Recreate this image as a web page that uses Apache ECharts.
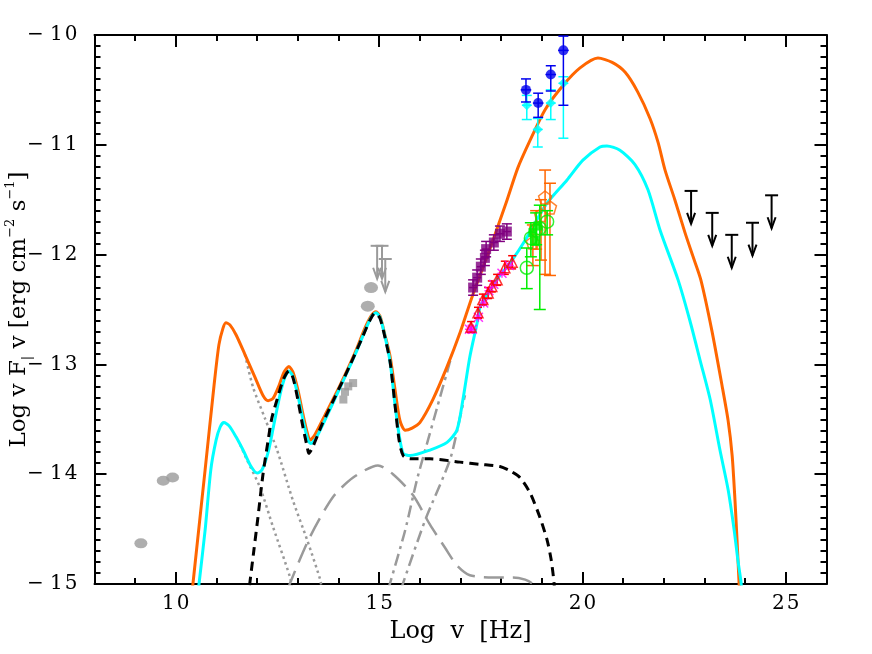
<!DOCTYPE html>
<html><head><meta charset="utf-8">
<script src="https://cdn.jsdelivr.net/npm/echarts@6/dist/echarts.min.js"></script>
<style>html,body{margin:0;padding:0;background:#fff}#c{width:872px;height:654px}</style>
</head><body><div id="c"></div>
<script>
// ---------- axis tick labels ----------
const xTickLabels = [10, 15, 20, 25];
const yTickLabels = [-15, -14, -13, -12, -11, -10];

// ---------- model curves: [log nu, log nuFnu] ----------
const orangeModel = [[10.38,-15.15],[10.42,-15.0],[10.72,-13.96],[10.94,-13.19],[11.06,-12.82],[11.16,-12.67],[11.23,-12.62],[11.33,-12.64],[11.48,-12.73],[11.70,-12.91],[11.95,-13.12],[12.14,-13.28],[12.27,-13.33],[12.39,-13.31],[12.54,-13.19],[12.66,-13.07],[12.78,-13.02],[12.88,-13.07],[13.00,-13.23],[13.13,-13.46],[13.23,-13.62],[13.30,-13.69],[13.42,-13.64],[13.67,-13.46],[14.04,-13.19],[14.41,-12.89],[14.65,-12.67],[14.80,-12.56],[14.92,-12.52],[15.02,-12.56],[15.14,-12.73],[15.27,-12.93],[15.39,-13.23],[15.51,-13.51],[15.64,-13.60],[15.81,-13.58],[16.00,-13.53],[16.32,-13.32],[16.67,-13.02],[16.99,-12.71],[17.28,-12.39],[17.73,-11.94],[18.12,-11.53],[18.41,-11.21],[18.71,-10.96],[19.08,-10.68],[19.52,-10.46],[19.94,-10.30],[20.38,-10.21],[20.73,-10.25],[21.05,-10.34],[21.36,-10.52],[21.66,-10.76],[21.86,-10.98],[22.03,-11.23],[22.27,-11.50],[22.52,-11.80],[22.72,-12.02],[22.91,-12.23],[23.18,-12.69],[23.43,-13.19],[23.58,-13.51],[23.68,-13.83],[23.75,-14.24],[23.80,-14.60],[23.85,-14.99],[23.87,-15.15]];
const cyanModel = [[10.53,-15.15],[10.57,-15.0],[10.72,-14.51],[10.86,-13.96],[10.99,-13.69],[11.09,-13.57],[11.18,-13.53],[11.31,-13.56],[11.48,-13.66],[11.68,-13.80],[11.85,-13.93],[12.00,-13.99],[12.12,-13.96],[12.27,-13.80],[12.41,-13.55],[12.56,-13.28],[12.68,-13.12],[12.78,-13.06],[12.88,-13.11],[13.00,-13.28],[13.13,-13.51],[13.25,-13.69],[13.32,-13.72],[13.45,-13.67],[13.69,-13.49],[14.04,-13.21],[14.41,-12.91],[14.68,-12.67],[14.82,-12.56],[14.92,-12.53],[15.02,-12.57],[15.14,-12.74],[15.27,-12.98],[15.39,-13.37],[15.49,-13.64],[15.59,-13.81],[15.76,-13.83],[16.25,-13.78],[16.67,-13.71],[16.91,-13.60],[17.06,-13.32],[17.23,-12.93],[17.41,-12.62],[17.48,-12.48],[17.73,-12.32],[17.97,-12.19],[18.27,-12.05],[18.59,-11.87],[18.88,-11.68],[19.13,-11.53],[19.62,-11.32],[20.01,-11.14],[20.43,-11.02],[20.60,-11.01],[20.92,-11.05],[21.29,-11.18],[21.61,-11.41],[21.91,-11.78],[22.35,-12.23],[22.64,-12.60],[22.89,-12.96],[23.14,-13.32],[23.38,-13.78],[23.58,-14.14],[23.73,-14.51],[23.82,-14.78],[23.90,-14.99],[23.92,-15.15]];
const blackModel = [[11.77,-15.15],[11.82,-14.99],[11.92,-14.69],[12.02,-14.39],[12.14,-14.01],[12.27,-13.69],[12.36,-13.49],[12.49,-13.32],[12.64,-13.14],[12.78,-13.06],[12.88,-13.12],[13.00,-13.32],[13.13,-13.58],[13.23,-13.75],[13.27,-13.81],[13.37,-13.75],[13.59,-13.55],[13.91,-13.30],[14.28,-13.01],[14.58,-12.76],[14.77,-12.60],[14.90,-12.53],[15.02,-12.58],[15.14,-12.75],[15.27,-12.98],[15.39,-13.37],[15.49,-13.69],[15.59,-13.83],[15.76,-13.86],[16.25,-13.86],[16.99,-13.89],[17.48,-13.91],[17.97,-13.93],[18.22,-13.97],[18.46,-14.03],[18.71,-14.17],[18.95,-14.39],[19.13,-14.60],[19.23,-14.78],[19.30,-14.99],[19.32,-15.15]];
const synchOrange = [[11.70,-12.91],[11.90,-13.21],[12.19,-13.49],[12.49,-13.78],[12.88,-14.24],[13.23,-14.60],[13.55,-14.96],[13.59,-15.05]];
const synchCyan = [[11.58,-13.73],[11.75,-13.87],[12.07,-14.12],[12.39,-14.48],[12.81,-14.94],[12.86,-15.05]];
const diskModel = [[12.76,-15.05],[12.81,-14.99],[13.30,-14.57],[13.86,-14.21],[14.36,-14.03],[14.97,-13.92],[15.34,-14.00],[15.83,-14.19],[16.25,-14.46],[16.62,-14.67],[16.91,-14.83],[17.23,-14.92],[17.80,-14.94],[18.29,-14.94],[18.59,-14.96],[18.78,-15.00],[18.83,-15.05]];
const sscOrange = [[15.22,-15.05],[15.27,-14.99],[15.64,-14.51],[15.93,-14.05],[16.20,-13.69],[16.42,-13.40],[16.67,-13.07],[16.79,-12.91]];
const sscCyan = [[15.54,-15.05],[15.59,-14.99],[16.13,-14.42],[16.74,-13.87],[16.99,-13.48],[17.11,-13.28]];

// ---------- data points ----------
const grayRadioX = [9.14, 9.69, 9.92];
const grayRadioY = [-14.63, -14.06, -14.03];
const grayIrX = [14.72, 14.80];
const grayIrY = [-12.47, -12.30];
const graySqX = [14.12, 14.16, 14.24, 14.36];
const graySqY = [-13.32, -13.25, -13.20, -13.17];
const grayUlX = [14.95, 15.07, 15.15];
const grayUlY = [-11.92, -11.92, -12.04];
const blackUlX = [22.67, 23.19, 23.67, 24.18, 24.65];
const blackUlY = [-11.42, -11.62, -11.82, -11.71, -11.46];
const ulLength = 0.30;

const blueX = [18.61, 18.91, 19.22, 19.53];
const blueY = [-10.50, -10.62, -10.36, -10.14];
const blueLo = [-10.61, -10.75, -10.51, -10.64];
const blueHi = [-10.40, -10.53, -10.28, -10.01];
const blueXerr = [0.13, 0.13, 0.13, 0.13];

const cyanX = [18.63, 18.90, 19.22, 19.53];
const cyanY = [-10.64, -10.86, -10.62, -10.44];
const cyanLo = [-10.77, -11.02, -10.77, -10.94];
const cyanHi = [-10.55, -10.76, -10.50, -10.38];
const cyanXerr = [0.12, 0.12, 0.12, 0.12];

const purpleX = [17.31, 17.41, 17.50, 17.60, 17.63, 17.82, 17.97, 18.14];
const purpleY = [-12.30, -12.21, -12.11, -12.03, -11.95, -11.89, -11.81, -11.79];
const purpleYerr = [0.07, 0.07, 0.07, 0.07, 0.07, 0.07, 0.07, 0.07];
const purpleXerr = [0.10, 0.10, 0.10, 0.10, 0.10, 0.10, 0.10, 0.10];

const redX = [17.26, 17.43, 17.55, 17.68, 17.77, 17.90, 18.09, 18.27];
const redY = [-12.66, -12.53, -12.41, -12.35, -12.29, -12.23, -12.12, -12.07];
const redYerr = [0.05, 0.05, 0.05, 0.05, 0.05, 0.05, 0.06, 0.06];

const magentaX = [17.22, 17.29, 17.44, 17.57, 17.70, 17.82, 18.02, 18.20];
const magentaY = [-12.68, -12.68, -12.57, -12.44, -12.33, -12.27, -12.17, -12.10];

const greenX = [18.63, 18.73, 18.86, 18.95, 19.13];
const greenY = [-12.12, -11.85, -11.78, -11.76, -11.70];
const greenLo = [-12.31, -12.02, -11.91, -12.50, -11.82];
const greenHi = [-11.94, -11.71, -11.62, -11.55, -11.60];
const greenFillX = [18.78, 18.83, 18.90];
const greenFillY = [-11.80, -11.88, -11.74];

const orangePtX = [19.08, 19.20, 18.98, 18.86, 18.78];
const orangePtY = [-11.48, -11.57, -11.64, -11.76, -11.89];
const orangePtLo = [-12.18, -12.19, -12.05, -11.95, -12.10];
const orangePtHi = [-11.23, -11.35, -11.50, -11.60, -11.73];

// ---------- helpers ----------
const zip = (a, b) => a.map((v, i) => [v, b[i]]);
const FONT = 'DejaVu Serif';
const spaced = s => String(s).split('').join('\u200a');

function errRender(color, cap, lw) {
  return function (params, api) {
    const x = api.value(0), y = api.value(1);
    const yl = api.value(2), yh = api.value(3), xl = api.value(4), xh = api.value(5);
    const lo = api.coord([x, yl]), hi = api.coord([x, yh]);
    const st = { stroke: color, lineWidth: lw };
    const ch = [
      { type: 'line', shape: { x1: lo[0], y1: lo[1], x2: hi[0], y2: hi[1] }, style: st },
      { type: 'line', shape: { x1: lo[0] - cap, y1: lo[1], x2: lo[0] + cap, y2: lo[1] }, style: st },
      { type: 'line', shape: { x1: hi[0] - cap, y1: hi[1], x2: hi[0] + cap, y2: hi[1] }, style: st }
    ];
    if (xh > xl) {
      const l = api.coord([xl, y]), r = api.coord([xh, y]);
      ch.push({ type: 'line', shape: { x1: l[0], y1: l[1], x2: r[0], y2: r[1] }, style: st });
    }
    return { type: 'group', children: ch };
  };
}
function ulRender(color, lw) {
  return function (params, api) {
    const x = api.value(0), y = api.value(1);
    const p = api.coord([x, y]), q = api.coord([x, y - ulLength]);
    const st = { stroke: color, lineWidth: lw, fill: null };
    return { type: 'group', children: [
      { type: 'line', shape: { x1: p[0] - 6.5, y1: p[1], x2: p[0] + 6.5, y2: p[1] }, style: st },
      { type: 'line', shape: { x1: p[0], y1: p[1], x2: q[0], y2: q[1] }, style: st },
      { type: 'polyline', shape: { points: [[q[0] - 4, q[1] - 11], [q[0], q[1]], [q[0] + 4, q[1] - 11]] }, style: st }
    ] };
  };
}
function errData(xs, ys, lo, hi, xerr) {
  return xs.map((x, i) => [x, ys[i], lo[i], hi[i], xerr ? x - xerr[i] : x, xerr ? x + xerr[i] : x]);
}
function lineSeries(data, color, width, type, z) {
  return { type: 'line', data: data, showSymbol: false, symbol: 'none', smooth: 0.25, clip: true, z: z,
    lineStyle: { color: color, width: width, type: type, cap: 'butt', join: 'round' } };
}

const GRAY = '#9a9a9a';
const axisLineStyle = { color: '#000', width: 2 };
const tickLabel = { fontFamily: FONT, fontSize: 20, color: '#000' };

const chart = echarts.init(document.getElementById('c'), null, { renderer: 'canvas' });
chart.setOption({
  animation: false,
  backgroundColor: '#fff',
  grid: { left: 94.5, right: 45.5, top: 35, bottom: 70, containLabel: false, outerBoundsMode: 'none' },
  xAxis: [
    { type: 'value', position: 'bottom', min: 8, max: 26, interval: 1,
      axisLine: { show: true, onZero: false, lineStyle: axisLineStyle },
      axisTick: { show: true, inside: true, length: 6, lineStyle: { color: '#000', width: 2 } },
      axisLabel: { show: true, margin: 10, ...tickLabel,
        formatter: v => (xTickLabels.indexOf(v) >= 0 ? spaced(v) : '') },
      splitLine: { show: false },
      name: 'Log  v  [Hz]', nameLocation: 'middle', nameGap: 36, nameMoveOverlap: false,
      nameTextStyle: { fontFamily: FONT, fontSize: 24, color: '#000' } },
    { type: 'value', position: 'bottom', min: 8, max: 26,
      axisLine: { show: false }, axisLabel: { show: false }, splitLine: { show: false },
      axisTick: { show: true, inside: true, length: 12, customValues: xTickLabels, lineStyle: { color: '#000', width: 2 } } },
    { type: 'value', position: 'top', min: 8, max: 26, interval: 1,
      axisLine: { show: true, onZero: false, lineStyle: axisLineStyle },
      axisTick: { show: true, inside: true, length: 6, lineStyle: { color: '#000', width: 2 } },
      axisLabel: { show: false }, splitLine: { show: false } },
    { type: 'value', position: 'top', min: 8, max: 26,
      axisLine: { show: false }, axisLabel: { show: false }, splitLine: { show: false },
      axisTick: { show: true, inside: true, length: 12, customValues: xTickLabels, lineStyle: { color: '#000', width: 2 } } }
  ],
  yAxis: [
    { type: 'value', position: 'left', min: -15, max: -10, interval: 1,
      axisLine: { show: true, onZero: false, lineStyle: axisLineStyle },
      axisTick: { show: true, inside: true, length: 12, lineStyle: { color: '#000', width: 2 } },
      minorTick: { show: true, splitNumber: 10, length: 6, lineStyle: { color: '#000', width: 2 } },
      axisLabel: { show: true, margin: 17, ...tickLabel,
        formatter: v => (yTickLabels.indexOf(v) >= 0 ? '\u2212 ' + spaced(Math.abs(v)) : '') },
      splitLine: { show: false }, minorSplitLine: { show: false },
      name: '{m|Log v F}{s||}{m| v [erg cm}{p|\u22122}{m| s}{p|\u22121}{m|]}',
      nameLocation: 'middle', nameGap: 60, nameRotate: 90, nameMoveOverlap: false,
      nameTextStyle: { color: '#000', rich: {
        m: { fontFamily: FONT, fontSize: 23, lineHeight: 30, color: '#000', verticalAlign: 'middle' },
        s: { fontFamily: FONT, fontSize: 13, lineHeight: 30, color: '#000', verticalAlign: 'bottom' },
        p: { fontFamily: FONT, fontSize: 13, lineHeight: 30, color: '#000', verticalAlign: 'top' } } } },
    { type: 'value', position: 'right', min: -15, max: -10, interval: 1,
      axisLine: { show: true, onZero: false, lineStyle: axisLineStyle },
      axisTick: { show: true, inside: true, length: 12, lineStyle: { color: '#000', width: 2 } },
      minorTick: { show: true, splitNumber: 10, length: 6, lineStyle: { color: '#000', width: 2 } },
      axisLabel: { show: false }, splitLine: { show: false }, minorSplitLine: { show: false } }
  ],
  series: [
    lineSeries(diskModel, GRAY, 2.5, [20, 9], 2),
    lineSeries(synchOrange, GRAY, 2.5, [2.5, 3.5], 2),
    lineSeries(synchCyan, GRAY, 2.5, [2.5, 3.5], 2),
    lineSeries(sscOrange, GRAY, 2.5, [12, 5, 3, 5], 2),
    lineSeries(sscCyan, GRAY, 2.5, [12, 5, 3, 5], 2),
    lineSeries(orangeModel, '#ff6600', 3, 'solid', 3),
    lineSeries(cyanModel, '#00ffff', 3, 'solid', 4),
    lineSeries(blackModel, '#000000', 3, [9, 6], 5),
    // gray points
    { type: 'scatter', data: zip(grayRadioX, grayRadioY), symbol: 'circle', symbolSize: [13, 10], itemStyle: { color: GRAY }, z: 6 },
    { type: 'scatter', data: zip(grayIrX, grayIrY), symbol: 'circle', symbolSize: [14, 11], itemStyle: { color: GRAY }, z: 6 },
    { type: 'scatter', data: zip(graySqX, graySqY), symbol: 'rect', symbolSize: 8, itemStyle: { color: GRAY }, z: 6 },
    { type: 'custom', data: zip(grayUlX, grayUlY), renderItem: ulRender(GRAY, 2), z: 6 },
    { type: 'custom', data: zip(blackUlX, blackUlY), renderItem: ulRender('#000', 2), z: 6 },
    // X-ray / optical data
    { type: 'custom', data: errData(orangePtX, orangePtY, orangePtLo, orangePtHi), renderItem: errRender('#ff6600', 6, 1.5), z: 7 },
    { type: 'scatter', data: zip(orangePtX, orangePtY), symbol: 'path://M5,0L10,3.8L8.1,10L1.9,10L0,3.8Z', symbolSize: 13,
      itemStyle: { color: 'rgba(0,0,0,0)', borderColor: '#ff6600', borderWidth: 1.5 }, z: 7 },
    { type: 'custom', data: errData(greenX, greenY, greenLo, greenHi), renderItem: errRender('#00ee00', 6, 1.5), z: 8 },
    { type: 'scatter', data: zip(greenX, greenY), symbol: 'circle', symbolSize: 13,
      itemStyle: { color: 'rgba(0,0,0,0)', borderColor: '#00ee00', borderWidth: 1.5 }, z: 8 },
    { type: 'scatter', data: zip(greenFillX, greenFillY), symbol: 'rect', symbolSize: 9, itemStyle: { color: '#00ee00' }, z: 8 },
    { type: 'custom', data: errData(purpleX, purpleY, purpleY.map((v, i) => v - purpleYerr[i]), purpleY.map((v, i) => v + purpleYerr[i]), purpleXerr),
      renderItem: errRender('#800080', 5, 1.5), z: 8 },
    { type: 'scatter', data: zip(purpleX, purpleY), symbol: 'rect', symbolSize: 10, itemStyle: { color: '#800080' }, z: 8 },
    { type: 'scatter', data: zip(magentaX, magentaY), symbol: 'path://M0,0L10,10M10,0L0,10M5,0L5,10M0,5L10,5', symbolSize: 9,
      itemStyle: { color: 'rgba(0,0,0,0)', borderColor: '#ff00ff', borderWidth: 1.5 }, z: 9 },
    { type: 'custom', data: errData(redX, redY, redY.map((v, i) => v - redYerr[i]), redY.map((v, i) => v + redYerr[i])),
      renderItem: errRender('#ff0000', 4, 1.5), z: 9 },
    { type: 'scatter', data: zip(redX, redY), symbol: 'triangle', symbolSize: 10,
      itemStyle: { color: 'rgba(0,0,0,0)', borderColor: '#ff0000', borderWidth: 1.5 }, z: 9 },
    { type: 'custom', data: errData(cyanX, cyanY, cyanLo, cyanHi, cyanXerr), renderItem: errRender('#00ffff', 5, 1.5), z: 9 },
    { type: 'scatter', data: zip(cyanX, cyanY), symbol: 'diamond', symbolSize: 10, itemStyle: { color: '#00ffff' }, z: 9 },
    { type: 'custom', data: errData(blueX, blueY, blueLo, blueHi, blueXerr), renderItem: errRender('#0000ee', 5, 1.5), z: 10 },
    { type: 'scatter', data: zip(blueX, blueY), symbol: 'circle', symbolSize: 10, itemStyle: { color: '#0000ee' }, z: 10 }
  ]
});
</script>
</body></html>
